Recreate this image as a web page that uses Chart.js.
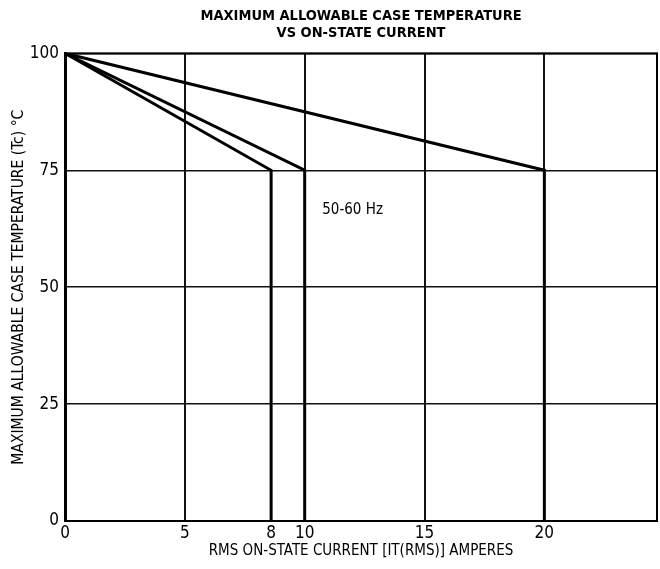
<!DOCTYPE html>
<html>
<head>
<meta charset="utf-8">
<script src="https://cdn.jsdelivr.net/npm/chart.js@4.4.1/dist/chart.umd.min.js"></script>
<style>
  html, body { margin: 0; padding: 0; background: #fff; }
  #wrap { width: 660px; height: 569px; }
</style>
</head>
<body>
<div id="wrap"><canvas id="chart"></canvas></div>
<script>
// device curves: case temp falls linearly from 100 to 75 at the knee current
const ratings = ["8 A", "10 A", "20 A"];
const kneeCurrent = [8.6, 10, 20];
const startTemp = 100;
const kneeTemp = 75;
const xTicks = [0, 5, 8.6, 10, 15, 20];
const xTickLabels = ["0", "5", "8", "10", "15", "20"];
const yTicks = [0, 25, 50, 75, 100];

const FONT = "'DejaVu Sans Condensed', 'Liberation Sans Narrow', sans-serif";

const datasets = ratings.map((name, i) => ({
  label: name,
  data: [
    { x: 0, y: startTemp },
    { x: kneeCurrent[i], y: kneeTemp },
    { x: kneeCurrent[i], y: 0 },
  ],
  borderColor: "#000",
  borderWidth: 3,
  pointRadius: 0,
  tension: 0,
  fill: false,
}));

const framePlugin = {
  id: "frame",
  afterDraw(chart) {
    const { ctx, chartArea: a, scales } = chart;
    ctx.save();
    ctx.strokeStyle = "#000";
    ctx.lineWidth = 2;
    ctx.strokeRect(a.left, a.top, a.right - a.left, a.bottom - a.top);
    ctx.fillStyle = "#000";
    ctx.font = "15px " + FONT;
    ctx.textAlign = "center";
    ctx.textBaseline = "middle";
    ctx.fillText("50-60 Hz", scales.x.getPixelForValue(12), scales.y.getPixelForValue(66.5));
    ctx.restore();
  },
};

new Chart(document.getElementById("chart"), {
  type: "line",
  data: { datasets },
  options: {
    responsive: true,
    maintainAspectRatio: false,
    animation: false,
    layout: { padding: { left: 4, right: 3, top: 0, bottom: 0 } },
    plugins: {
      legend: { display: false },
      tooltip: { enabled: false },
      title: {
        display: true,
        fullSize: false,
        text: ["MAXIMUM ALLOWABLE CASE TEMPERATURE", "VS ON-STATE CURRENT"],
        color: "#000",
        font: { family: FONT, size: 14.5, weight: "bold", lineHeight: 1.15 },
        padding: { top: 8, bottom: 12 },
      },
    },
    scales: {
      x: {
        type: "linear",
        min: 0,
        max: 24.7,
        afterBuildTicks: (s) => { s.ticks = xTicks.map((v) => ({ value: v })); },
        afterFit: (s) => { s.height = 48; },
        ticks: {
          color: "#000",
          padding: 2,
          maxRotation: 0,
          font: { family: FONT, size: 17 },
          callback: (v) => xTickLabels[xTicks.indexOf(v)],
        },
        grid: {
          color: (c) => (c.tick && (c.tick.value === 8.6 || c.tick.value === 0) ? "rgba(0,0,0,0)" : "#111"),
          lineWidth: 2,
          drawTicks: false,
        },
        border: { color: "#000", width: 2 },
        title: {
          display: true,
          text: "RMS ON-STATE CURRENT [IT(RMS)] AMPERES",
          color: "#000",
          font: { family: FONT, size: 15 },
          padding: { top: 0, bottom: 9 },
        },
      },
      y: {
        type: "linear",
        min: 0,
        max: 100,
        afterBuildTicks: (s) => { s.ticks = yTicks.map((v) => ({ value: v })); },
        afterFit: (s) => { s.width = 61; },
        ticks: {
          color: "#000",
          padding: 6,
          font: { family: FONT, size: 17 },
        },
        grid: {
          color: "#111",
          lineWidth: 1.5,
          drawTicks: false,
        },
        border: { color: "#000", width: 3 },
        title: {
          display: true,
          text: "MAXIMUM ALLOWABLE CASE TEMPERATURE (Tc) °C",
          color: "#000",
          font: { family: FONT, size: 15.5 },
          padding: { top: 6, bottom: 0 },
        },
      },
    },
  },
  plugins: [framePlugin],
});
</script>
</body>
</html>
